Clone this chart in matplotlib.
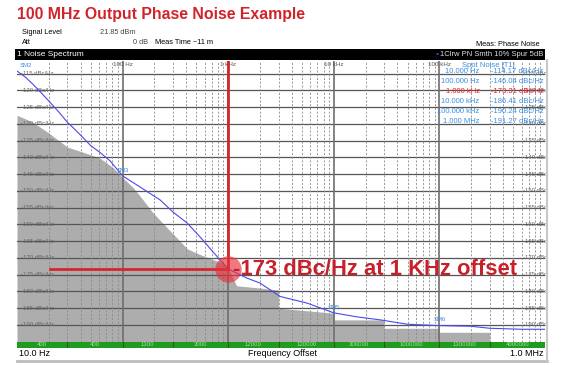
import matplotlib
matplotlib.use('Agg')
import matplotlib.pyplot as plt
from matplotlib.lines import Line2D
from matplotlib.patches import Rectangle
import numpy as np

# trace data
trace_freq = [10, 12, 14, 16.5, 20.5, 25, 30, 35, 42, 50, 61, 76, 100, 146, 227, 300, 410, 544,
              718, 1000, 1500, 2000, 3100, 5600, 10000, 16600, 27600, 50000, 100000, 200000,
              300000, 600000, 1000000]
trace_db = [-114.2, -116, -118, -120.3, -123.5, -126.5, -129.5, -131.5, -134, -136.5, -138.5,
            -141, -145.5, -148.8, -152.7, -156.3, -159.6, -163.8, -168.2, -173.3, -176, -177.5,
            -181.5, -183.5, -186.4, -187.6, -188.5, -189.8, -190.2, -190.4, -191.0, -191.3, -191.3]

# gray noise floor (staircase)
floor_freq = [10, 14, 20, 30, 42, 61, 81, 100, 126, 146, 194, 264, 350, 410, 544, 718, 880, 1000,
              1200, 2000, 3000, 3000, 10000, 10000, 30000, 30000, 100000, 100000, 300000, 300000,
              1000000]
floor_db = [-127.4, -129.4, -132.7, -136.9, -138.4, -140.2, -143, -146, -149, -151.5, -156.5,
            -161, -165, -167.3, -169, -170.5, -171.5, -173, -178.3, -179, -179.6, -185, -186.5,
            -188.5, -188.5, -191, -191, -192.2, -192.2, -197, -197]

# markers
mark_freq = [10, 100, 1000, 10000, 100000]
mark_db = [-114.2, -145.5, -173.3, -186.4, -190.2]
mark_names = ['SM2', 'SM3', 'SM4', 'SM5', 'SM6']

# spot noise table
spot_freq = ['10.000 Hz', '100.000 Hz', '1.000 kHz', '10.000 kHz', '100.000 kHz', '1.000 MHz']
spot_val = ['-114.17 dBc/Hz', '-146.04 dBc/Hz', '-173.31 dBc/Hz', '-186.41 dBc/Hz',
            '-190.24 dBc/Hz', '-191.27 dBc/Hz']

# sweep segments (green bar)
seg_edges = [10, 30, 100, 300, 1000, 3000, 10000, 30000, 100000, 300000, 1000000]
seg_labels = ['400', '400', '1300', '3000', '12000', '120000', '300000', '1000000', '1300000',
              '4000000']

db_ticks = list(range(-115, -191, -5))
decades = [100, 1000, 10000, 100000]
decade_labels = ['100 Hz', '1 kHz', '10 kHz', '100 kHz']

W, H = 562, 382
fig = plt.figure(figsize=(W / 100, H / 100), dpi=100)
plt.rcParams['font.family'] = ['Liberation Sans', 'DejaVu Sans']


def fx(x):
    return x / W


def fy(y):
    return 1 - y / H


x0, x1, ytop, ybot = 17, 545, 61, 342
ax = fig.add_axes([fx(x0), fy(ybot), fx(x1 - x0), (ybot - ytop) / H])
ax.set_xscale('log')
ax.set_xlim(10, 1e6)
ax.set_ylim(-195.1, -111.2)
ax.set_xticks([])
ax.set_yticks([])
ax.minorticks_off()
for s in ax.spines.values():
    s.set_visible(False)

ax.fill_between(floor_freq, floor_db, -200, color='#adadad', lw=0, zorder=1)

for d in db_ticks:
    ax.axhline(d, color='#555555', lw=0.9, zorder=2)
for dec in [10, 100, 1000, 10000, 100000]:
    for m in range(2, 10):
        ax.axvline(dec * m, color='#8a8a8a', lw=0.6, ls=(0, (2.5, 2)), zorder=2)
for dec in decades:
    ax.axvline(dec, color='#6e6e6e', lw=1.2, zorder=2)

for d in db_ticks:
    ax.text(11, d, '%d dBc/Hz' % d, fontsize=4.3, color='#666666', va='center', ha='left', zorder=3)
    ax.text(6.2e5, d, '%d dBc' % d, fontsize=4.3, color='#666666', va='center', ha='left', zorder=3)

for dec, lab in zip(decades, decade_labels):
    ax.text(dec, -111.6, lab, fontsize=4.5, color='#555555', ha='center', va='top', zorder=3)

ax.plot(trace_freq, trace_db, color='#4a4aee', lw=0.8, zorder=4)

for f, d, n in zip(mark_freq, mark_db, mark_names):
    if n == 'SM2':
        ax.text(10.5, -111.8, n, fontsize=4.3, color='#3a8fe0', va='top', zorder=5)
    elif n != 'SM4':
        ax.text(f, d + 1.0, n, fontsize=4.3, color='#3a8fe0', ha='center', va='bottom', zorder=5)

# spot noise table
ax.text(2.9e5, -111.6, 'Spot Noise [T1]', fontsize=5.5, color='#3a8fe0', ha='center', va='top', zorder=6)
for i, (fl, vl) in enumerate(zip(spot_freq, spot_val)):
    c = '#e8202a' if i == 2 else '#3a8fe0'
    yy = -114.3 - i * 3.0
    ax.text(2.4e5, yy, fl, fontsize=5.5, color=c, ha='right', va='center', zorder=6)
    ax.text(3.1e5, yy, vl, fontsize=5.5, color=c, ha='left', va='center', zorder=6)

# red annotation
red = '#d8262f'
ax.plot([1000, 1000], [-111.2, mark_db[2]], color=red, lw=2, zorder=7)
ax.plot([20.6, 1000], [mark_db[2], mark_db[2]], color=red, lw=2, zorder=7)
ax.plot([1000], [mark_db[2]], 'o', ms=19, color='#e8303a', alpha=0.65, mec='none', zorder=7)
ax.text(1120, mark_db[2] - 0.2, '-173 dBc/Hz at 1 KHz offset', fontsize=15.8, color='#c8202a',
        fontweight='bold', va='center', ha='left', zorder=8)

# green segment bar
axg = fig.add_axes([fx(x0), fy(348), fx(x1 - x0), 6 / H])
axg.set_xscale('log')
axg.set_xlim(10, 1e6)
axg.set_ylim(0, 1)
axg.set_facecolor('#1f9b1f')
axg.set_xticks([])
axg.set_yticks([])
axg.minorticks_off()
for s in axg.spines.values():
    s.set_visible(False)
for e in seg_edges[1:-1]:
    axg.axvline(e, color='#2c5a2c', lw=0.8)
for a, b, lab in zip(seg_edges[:-1], seg_edges[1:], seg_labels):
    axg.text(np.sqrt(a * b), 0.5, lab, fontsize=4.3, color='#a8e0a8', ha='center', va='center')

# header texts
fig.text(fx(17), fy(15), '100 MHz Output Phase Noise Example', fontsize=11.4, fontweight='bold',
         color='#d2232a', va='center', ha='left')
fig.text(fx(22), fy(33), 'Signal Level', fontsize=5.3, va='center')
fig.text(fx(100), fy(33), '21.85 dBm', fontsize=5.3, va='center', color='#444444')
fig.text(fx(22), fy(42), 'Att', fontsize=5.3, va='center')
fig.text(fx(148), fy(42), '0 dB', fontsize=5.3, va='center', ha='right', color='#444444')
fig.text(fx(155), fy(42), 'Meas Time ~11 m', fontsize=5.3, va='center')
fig.text(fx(540), fy(44), 'Meas: Phase Noise', fontsize=5.3, va='center', ha='right')

fig.patches.append(Rectangle((fx(15), fy(60)), fx(530), 11 / H, transform=fig.transFigure,
                             facecolor='black', edgecolor='none'))
fig.text(fx(17), fy(54.5), '1 Noise Spectrum', fontsize=6, color='white', va='center')
fig.text(fx(543), fy(54.5), '1Clrw PN Smth 10% Spur 5dB', fontsize=5.5, color='#dddddd',
         va='center', ha='right')
fig.text(fx(439), fy(54.5), '\u2022', fontsize=6, color='#3050ff', va='center', ha='right')

# bottom strip
fig.text(fx(19), fy(354), '10.0 Hz', fontsize=6.5, va='center')
fig.text(fx(283), fy(354), 'Frequency Offset', fontsize=6.5, va='center', ha='center')
fig.text(fx(543), fy(354), '1.0 MHz', fontsize=6.5, va='center', ha='right')
fig.lines.append(Line2D([fx(17), fx(547)], [fy(361), fy(361)], transform=fig.transFigure,
                        color='#bbbbbb', lw=2))
fig.lines.append(Line2D([fx(547), fx(547)], [fy(60), fy(361)], transform=fig.transFigure,
                        color='#c8c8c8', lw=1.5))

fig.savefig('out.png', dpi=100)
